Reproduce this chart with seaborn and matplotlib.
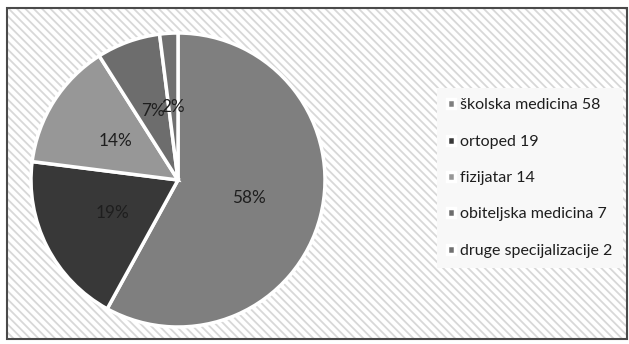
import matplotlib
matplotlib.use("Agg")
import matplotlib.pyplot as plt
import seaborn as sns
from matplotlib.patches import Rectangle

labels = ["školska medicina", "ortoped", "fizijatar", "obiteljska medicina", "druge specijalizacije"]
values = [58, 19, 14, 7, 2]
colors = ["#7f7f7f", "#383838", "#979797", "#6d6d6d", "#707070"]

sns.set_theme(style="white")
plt.rcParams["font.family"] = ["Lato", "DejaVu Sans"]
plt.rcParams["hatch.linewidth"] = 1.3

fig = plt.figure(figsize=(6.29, 3.44), dpi=100)
fig.patch.set_facecolor("white")

# hatched chart area with dark border
bg = Rectangle((7 / 629, 5 / 344), 620 / 629, 331 / 344, transform=fig.transFigure,
               facecolor="white", edgecolor="#d8d8d8", hatch=r"\\\\", lw=0, zorder=0)
fig.patches.append(bg)
border = Rectangle((7 / 629, 5 / 344), 620 / 629, 331 / 344, transform=fig.transFigure,
                   facecolor="none", edgecolor="#4a4a4a", lw=1.5, zorder=1)
fig.patches.append(border)

ax = fig.add_axes([31 / 629, 17 / 344, 294 / 629, 294 / 344])
ax.set_zorder(3)
ax.set_facecolor("none")
wedges, texts, autotexts = ax.pie(values, colors=colors, startangle=90, counterclock=False,
                                  autopct="%d%%", pctdistance=0.5, radius=1,
                                  wedgeprops=dict(edgecolor="white", linewidth=2.5),
                                  textprops=dict(fontsize=12.3, color="#1e1e1e"))
ax.set_xlim(-1.0, 1.0)
ax.set_ylim(-1.0, 1.0)
ax.set_aspect("equal")
ax.axis("off")

leg_labels = [f"{l} {v}" for l, v in zip(labels, values)]
leg = fig.legend(wedges, leg_labels, loc="upper left", bbox_to_anchor=(437 / 629, 256 / 344),
                 borderaxespad=0, frameon=True, fancybox=False, facecolor="#f8f8f8",
                 edgecolor="none", framealpha=1, fontsize=11.5, labelspacing=1.4,
                 handlelength=0.5, handleheight=0.5, handletextpad=0.3, borderpad=0.65)
leg.set_zorder(4)
for t in leg.get_texts():
    t.set_color("#1e1e1e")

fig.savefig("out.png", dpi=100)
